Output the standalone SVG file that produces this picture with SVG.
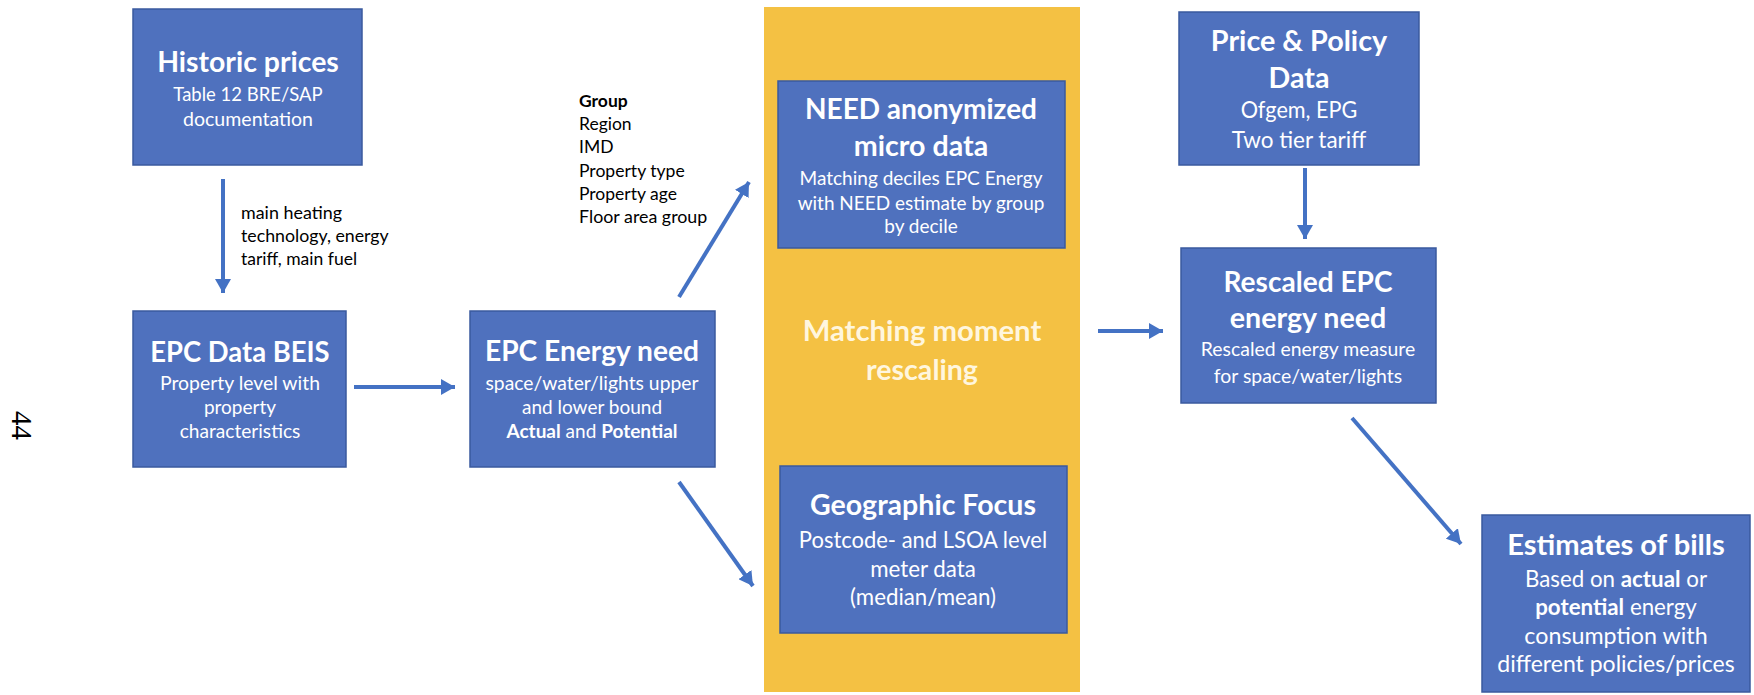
<svg xmlns="http://www.w3.org/2000/svg" width="1754" height="695" viewBox="0 0 1754 695">
<style>
.box{fill:#4F71BE;stroke:#3A5A9E;stroke-width:1.5}
.t{font-family:Lato,"Open Sans",sans-serif;fill:#FFFFFF;text-anchor:middle}
.h{font-weight:bold;font-size:28.6px}
.s{font-size:19px}
.s2{font-size:22.3px}
.b{font-weight:bold}
.lbl{font-family:Lato,"Open Sans",sans-serif;font-size:17.5px;fill:#000000}
.conn{stroke:#4472C4;stroke-width:4;fill:none;marker-end:url(#ah)}
</style>
<defs>
<marker id="ah" markerUnits="userSpaceOnUse" markerWidth="16" markerHeight="16" refX="14" refY="8" orient="auto">
<path d="M0,0 L14,8 L0,16 Z" fill="#4472C4"/>
</marker>
</defs>
<rect x="0" y="0" width="1754" height="695" fill="#FFFFFF"/>
<text transform="translate(12,411) rotate(90)" font-family="Liberation Serif,serif" font-size="29" fill="#000">44</text>

<g id="matching">
<rect x="764" y="7" width="316" height="685" fill="#F4C143"/>
<text class="t h" x="922" y="341" style="fill:#FFF6DE" textLength="238.7" lengthAdjust="spacingAndGlyphs">Matching moment</text>
<text class="t h" x="922" y="380" style="fill:#FFF6DE">rescaling</text>
</g>

<g id="historic">
<rect class="box" x="133" y="9" width="229" height="156"/>
<text class="t h" x="248" y="72" textLength="181.7" lengthAdjust="spacingAndGlyphs">Historic prices</text>
<text class="t s" x="248" y="101" textLength="149.3" lengthAdjust="spacingAndGlyphs">Table 12 BRE/SAP</text>
<text class="t s" x="248" y="126" textLength="130" lengthAdjust="spacingAndGlyphs">documentation</text>
</g>

<g id="epcdata">
<rect class="box" x="133" y="311" width="213" height="156"/>
<text class="t h" x="240" y="362" textLength="179.3" lengthAdjust="spacingAndGlyphs">EPC Data BEIS</text>
<text class="t s" x="240" y="390" textLength="160" lengthAdjust="spacingAndGlyphs">Property level with</text>
<text class="t s" x="240" y="414">property</text>
<text class="t s" x="240" y="438" textLength="120.7" lengthAdjust="spacingAndGlyphs">characteristics</text>
</g>

<g id="epcneed">
<rect class="box" x="470" y="311" width="245" height="156"/>
<text class="t h" x="592" y="361" textLength="214" lengthAdjust="spacingAndGlyphs">EPC Energy need</text>
<text class="t s" x="592" y="390" textLength="213" lengthAdjust="spacingAndGlyphs">space/water/lights upper</text>
<text class="t s" x="592" y="414">and lower bound</text>
<text class="t s" x="592" y="438"><tspan class="b">Actual</tspan> and <tspan class="b">Potential</tspan></text>
</g>

<g id="need">
<rect class="box" x="778" y="81" width="287" height="167"/>
<text class="t h" x="921" y="119" textLength="232" lengthAdjust="spacingAndGlyphs">NEED anonymized</text>
<text class="t h" x="921" y="156">micro data</text>
<text class="t s" x="921" y="185" textLength="243" lengthAdjust="spacingAndGlyphs">Matching deciles EPC Energy</text>
<text class="t s" x="921" y="210" textLength="246.7" lengthAdjust="spacingAndGlyphs">with NEED estimate by group</text>
<text class="t s" x="921" y="233">by decile</text>
</g>

<g id="geo">
<rect class="box" x="780" y="466" width="287" height="167"/>
<text class="t h" x="923" y="515" textLength="226" lengthAdjust="spacingAndGlyphs">Geographic Focus</text>
<text class="t s2" x="923" y="548" textLength="248.3" lengthAdjust="spacingAndGlyphs">Postcode- and LSOA level</text>
<text class="t s2" x="923" y="577">meter data</text>
<text class="t s2" x="923" y="605">(median/mean)</text>
</g>

<g id="price">
<rect class="box" x="1179" y="12" width="240" height="153"/>
<text class="t h" x="1299" y="51" textLength="176.3" lengthAdjust="spacingAndGlyphs">Price &amp; Policy</text>
<text class="t h" x="1299" y="88">Data</text>
<text class="t s2" x="1299" y="118" textLength="116.7" lengthAdjust="spacingAndGlyphs">Ofgem, EPG</text>
<text class="t s2" x="1299" y="148" textLength="134.3" lengthAdjust="spacingAndGlyphs">Two tier tariff</text>
</g>

<g id="rescaled">
<rect class="box" x="1181" y="248" width="255" height="155"/>
<text class="t h" x="1308" y="292" textLength="169" lengthAdjust="spacingAndGlyphs">Rescaled EPC</text>
<text class="t h" x="1308" y="328">energy need</text>
<text class="t s" x="1308" y="356" textLength="214.3" lengthAdjust="spacingAndGlyphs">Rescaled energy measure</text>
<text class="t s" x="1308" y="383" textLength="188.3" lengthAdjust="spacingAndGlyphs">for space/water/lights</text>
</g>

<g id="bills">
<rect class="box" x="1482" y="515" width="268" height="177"/>
<text class="t h" x="1616" y="555" textLength="217.7" lengthAdjust="spacingAndGlyphs">Estimates of bills</text>
<text class="t s2" x="1616" y="587">Based on <tspan class="b">actual</tspan> or</text>
<text class="t s2" x="1616" y="615"><tspan class="b">potential</tspan> energy</text>
<text class="t s2" x="1616" y="644" textLength="183.3" lengthAdjust="spacingAndGlyphs">consumption with</text>
<text class="t s2" x="1616" y="672" textLength="237.3" lengthAdjust="spacingAndGlyphs">different policies/prices</text>
</g>

<g id="labels">
<text class="lbl" x="241" y="219" textLength="101" lengthAdjust="spacingAndGlyphs">main heating</text>
<text class="lbl" x="241" y="242" textLength="147.7" lengthAdjust="spacingAndGlyphs">technology, energy</text>
<text class="lbl" x="241" y="265">tariff, main fuel</text>
<text class="lbl b" x="579" y="107">Group</text>
<text class="lbl" x="579" y="130">Region</text>
<text class="lbl" x="579" y="153">IMD</text>
<text class="lbl" x="579" y="177" textLength="105.7" lengthAdjust="spacingAndGlyphs">Property type</text>
<text class="lbl" x="579" y="200">Property age</text>
<text class="lbl" x="579" y="223" textLength="128.3" lengthAdjust="spacingAndGlyphs">Floor area group</text>
</g>

<g id="connectors">
<line class="conn" x1="223" y1="179" x2="223" y2="293"/>
<line class="conn" x1="354" y1="387" x2="455" y2="387"/>
<line class="conn" x1="679" y1="297" x2="749" y2="182"/>
<line class="conn" x1="679" y1="482" x2="753" y2="586"/>
<line class="conn" x1="1098" y1="331" x2="1163" y2="331"/>
<line class="conn" x1="1305" y1="168" x2="1305" y2="239"/>
<line class="conn" x1="1352" y1="418" x2="1461" y2="544"/>
</g>
</svg>
